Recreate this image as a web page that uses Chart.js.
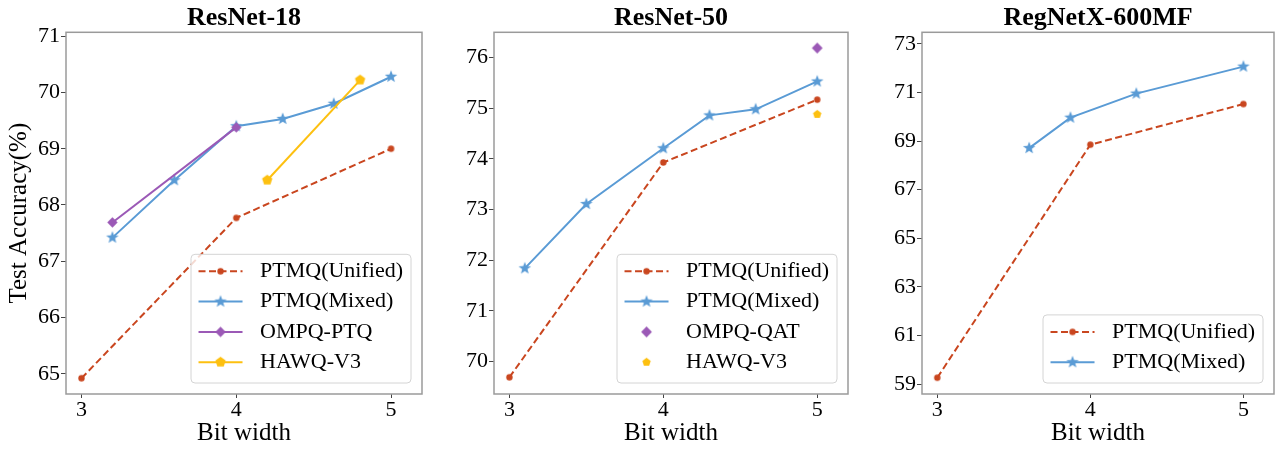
<!DOCTYPE html>
<html>
<head>
<meta charset="utf-8">
<script src="https://cdn.jsdelivr.net/npm/chart.js@4/dist/chart.umd.min.js"></script>
<style>
  html, body { margin: 0; padding: 0; background: #fff; }
  #wrap { position: relative; width: 1282px; height: 449px; overflow: hidden; }
  canvas { position: absolute; top: 0; }
</style>
</head>
<body>
<div id="wrap">
  <canvas id="c1" width="430" height="449" style="left:0px"></canvas>
  <canvas id="c2" width="428" height="449" style="left:428px"></canvas>
  <canvas id="c3" width="426" height="449" style="left:856px"></canvas>
</div>
<script>
// ---- data ----
const bitTicks = [3, 4, 5];

// ResNet-18
const r18Ticks = [65, 66, 67, 68, 69, 70, 71];
const r18UnifiedBits = [3, 4, 5];
const r18UnifiedAcc = [64.92, 67.77, 69.00];
const r18MixedBits = [3.2, 3.6, 4.0, 4.3, 4.63, 5.0];
const r18MixedAcc = [67.42, 68.44, 69.40, 69.53, 69.80, 70.28];
const r18OmpqBits = [3.2, 4.0];
const r18OmpqAcc = [67.69, 69.38];
const r18HawqBits = [4.2, 4.8];
const r18HawqAcc = [68.44, 70.22];

// ResNet-50
const r50Ticks = [70, 71, 72, 73, 74, 75, 76];
const r50UnifiedBits = [3, 4, 5];
const r50UnifiedAcc = [69.69, 73.93, 75.17];
const r50MixedBits = [3.1, 3.5, 4.0, 4.3, 4.6, 5.0];
const r50MixedAcc = [71.84, 73.11, 74.21, 74.86, 74.98, 75.53];
const r50OmpqBits = [5.0];
const r50OmpqAcc = [76.19];
const r50HawqBits = [5.0];
const r50HawqAcc = [74.88];

// RegNetX-600MF
const regTicks = [59, 61, 63, 65, 67, 69, 71, 73];
const regUnifiedBits = [3, 4, 5];
const regUnifiedAcc = [59.27, 68.85, 70.52];
const regMixedBits = [3.6, 3.87, 4.3, 5.0];
const regMixedAcc = [68.71, 69.96, 70.95, 72.06];

const RED = "#c9461f";
const BLUE = "#5a9bd5";
const PURPLE = "#9b59b6";
const YELLOW = "#fdc010";

Chart.defaults.font.family = '"Liberation Serif", "Times New Roman", serif';
Chart.defaults.color = "#000";

function pts(xs, ys) {
  return xs.map((x, i) => ({ x: x, y: ys[i] }));
}

// small canvas markers (filled star / pentagon / diamond like matplotlib)
function markerImage(shape, color, r) {
  const size = Math.ceil(r * 2 + 2);
  const c = document.createElement("canvas");
  c.width = size;
  c.height = size;
  const g = c.getContext("2d");
  const m = size / 2;
  g.beginPath();
  if (shape === "star") {
    for (let i = 0; i < 10; i++) {
      const rr = i % 2 ? r * 0.42 : r;
      const a = -Math.PI / 2 + i * Math.PI / 5;
      g.lineTo(m + rr * Math.cos(a), m + rr * Math.sin(a));
    }
  } else if (shape === "pentagon") {
    for (let i = 0; i < 5; i++) {
      const a = -Math.PI / 2 + i * 2 * Math.PI / 5;
      g.lineTo(m + r * Math.cos(a), m + r * Math.sin(a));
    }
  } else if (shape === "diamond") {
    g.moveTo(m, m - r);
    g.lineTo(m + r, m);
    g.lineTo(m, m + r);
    g.lineTo(m - r, m);
  } else {
    g.arc(m, m, r, 0, Math.PI * 2);
  }
  g.closePath();
  g.fillStyle = color;
  g.fill();
  return c;
}

function unifiedSet(xs, ys) {
  return {
    label: "PTMQ(Unified)",
    data: pts(xs, ys),
    borderColor: RED,
    backgroundColor: RED,
    borderWidth: 2,
    borderDash: [7, 3.5],
    pointStyle: markerImage("circle", RED, 3.2),
    pointRadius: 3,
    order: 3
  };
}

function mixedSet(xs, ys) {
  return {
    label: "PTMQ(Mixed)",
    data: pts(xs, ys),
    borderColor: BLUE,
    backgroundColor: BLUE,
    borderWidth: 2,
    pointStyle: markerImage("star", BLUE, 6.6),
    pointRadius: 6,
    order: 2
  };
}

// draws the spines around the plot area
const framePlugin = {
  id: "frame",
  afterDatasetsDraw(chart) {
    const { ctx, chartArea } = chart;
    ctx.save();
    ctx.strokeStyle = "#9a9a9a";
    ctx.lineWidth = 1.5;
    ctx.strokeRect(chartArea.left, chartArea.top, chartArea.right - chartArea.left, chartArea.bottom - chartArea.top);
    ctx.restore();
  }
};

// matplotlib style legend box in the lower right corner
const boxLegend = {
  id: "boxLegend",
  afterDraw(chart) {
    const { ctx, chartArea } = chart;
    const sets = chart.data.datasets;
    ctx.save();
    ctx.font = '22px "Liberation Serif", "Times New Roman", serif';
    const textW = Math.max(...sets.map(d => ctx.measureText(d.label).width));
    const rowH = 30.3;
    const w = 69 + textW + 8;
    const h = sets.length * rowH + 7.5;
    const x = chartArea.right - 11 - w;
    const y = chartArea.bottom - 11 - h;

    ctx.beginPath();
    ctx.roundRect(x, y, w, h, 4);
    ctx.fillStyle = "rgba(255,255,255,0.8)";
    ctx.fill();
    ctx.strokeStyle = "#d4d4d4";
    ctx.lineWidth = 1;
    ctx.stroke();

    sets.forEach((d, i) => {
      const cy = y + 17 + i * rowH;
      if (d.showLine !== false) {
        ctx.beginPath();
        ctx.setLineDash(d.borderDash || []);
        ctx.strokeStyle = d.borderColor;
        ctx.lineWidth = d.borderWidth;
        ctx.moveTo(x + 7.5, cy);
        ctx.lineTo(x + 51.5, cy);
        ctx.stroke();
        ctx.setLineDash([]);
      }
      const img = d.pointStyle;
      ctx.drawImage(img, x + 29.5 - img.width / 2, cy - img.height / 2);
      ctx.fillStyle = "#000";
      ctx.textAlign = "left";
      ctx.textBaseline = "middle";
      ctx.fillText(d.label, x + 69, cy);
    });
    ctx.restore();
  }
};

function makePanel(id, title, yTitle, yMin, yMax, yTicks, datasets, padRight) {
  return new Chart(document.getElementById(id), {
    type: "line",
    data: { datasets: datasets },
    options: {
      responsive: false,
      animation: false,
      layout: { padding: { left: 0, right: padRight, top: 0, bottom: 0 } },
      elements: { line: { tension: 0 }, point: { borderWidth: 0 } },
      plugins: {
        legend: { display: false },
        tooltip: { enabled: false },
        title: {
          display: true,
          text: title,
          fullSize: false,
          color: "#000",
          font: { size: 26, weight: "bold", lineHeight: 1 },
          padding: { top: 5, bottom: 1.3 }
        }
      },
      scales: {
        x: {
          type: "linear",
          min: 2.9,
          max: 5.2,
          afterBuildTicks: s => { s.ticks = bitTicks.map(v => ({ value: v })); },
          afterFit: s => { s.height = 55; },
          grid: { drawOnChartArea: false, drawTicks: true, tickLength: 4, color: "#444" },
          border: { display: false },
          ticks: { font: { size: 22, lineHeight: 1 }, padding: 1, maxRotation: 0, color: "#000" },
          title: {
            display: true,
            text: "Bit width",
            color: "#000",
            font: { size: 25, lineHeight: 1 },
            padding: { top: 0, bottom: 3 }
          }
        },
        y: {
          type: "linear",
          min: yMin,
          max: yMax,
          afterBuildTicks: s => { s.ticks = yTicks.map(v => ({ value: v })); },
          afterFit: s => { s.width = 66; },
          grid: { drawOnChartArea: false, drawTicks: true, tickLength: 5, color: "#444" },
          border: { display: false },
          ticks: { font: { size: 22, lineHeight: 1 }, padding: 1, color: "#000" },
          title: {
            display: !!yTitle,
            text: yTitle || "",
            color: "#000",
            font: { size: 25, lineHeight: 1 },
            padding: { top: 7, bottom: 0 }
          }
        }
      }
    },
    plugins: [framePlugin, boxLegend]
  });
}

makePanel("c1", "ResNet-18", "Test Accuracy(%)", 64.64, 71.07, r18Ticks, [
  unifiedSet(r18UnifiedBits, r18UnifiedAcc),
  mixedSet(r18MixedBits, r18MixedAcc),
  {
    label: "OMPQ-PTQ",
    data: pts(r18OmpqBits, r18OmpqAcc),
    borderColor: PURPLE,
    backgroundColor: PURPLE,
    borderWidth: 2,
    pointStyle: markerImage("diamond", PURPLE, 5.2),
    pointRadius: 5,
    order: 1
  },
  {
    label: "HAWQ-V3",
    data: pts(r18HawqBits, r18HawqAcc),
    borderColor: YELLOW,
    backgroundColor: YELLOW,
    borderWidth: 2,
    pointStyle: markerImage("pentagon", YELLOW, 5.4),
    pointRadius: 5,
    order: 0
  }
], 7);

makePanel("c2", "ResNet-50", "", 69.36, 76.50, r50Ticks, [
  unifiedSet(r50UnifiedBits, r50UnifiedAcc),
  mixedSet(r50MixedBits, r50MixedAcc),
  {
    label: "OMPQ-QAT",
    data: pts(r50OmpqBits, r50OmpqAcc),
    showLine: false,
    borderColor: PURPLE,
    backgroundColor: PURPLE,
    pointStyle: markerImage("diamond", PURPLE, 5.4),
    pointRadius: 5,
    order: 1
  },
  {
    label: "HAWQ-V3",
    data: pts(r50HawqBits, r50HawqAcc),
    showLine: false,
    borderColor: YELLOW,
    backgroundColor: YELLOW,
    pointStyle: markerImage("pentagon", YELLOW, 4.4),
    pointRadius: 4,
    order: 0
  }
], 6);

makePanel("c3", "RegNetX-600MF", "", 58.60, 73.47, regTicks, [
  unifiedSet(regUnifiedBits, regUnifiedAcc),
  mixedSet(regMixedBits, regMixedAcc)
], 3);
</script>
</body>
</html>
